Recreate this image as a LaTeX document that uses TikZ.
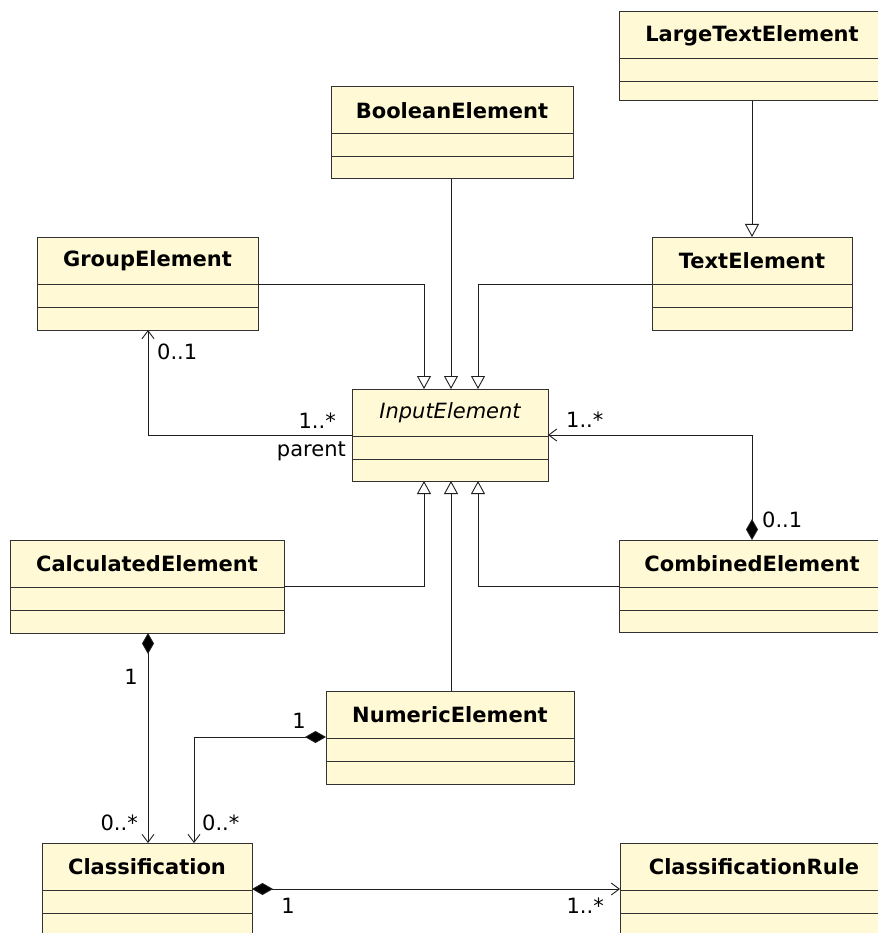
\documentclass[tikz,border=0pt]{standalone}
\usepackage{fontspec}
\setmainfont{DejaVu Sans}
\usetikzlibrary{arrows.meta,calc}
\definecolor{classfill}{RGB}{255,250,213}
\definecolor{classline}{RGB}{50,50,50}
\definecolor{wire}{RGB}{30,30,30}
% \umlclass{name}{x1}{y1}{x2}{y2}{title}{font}
\newcommand{\umlclass}[7]{%
  \node[classbox, minimum width={(#4-#2)*1pt}, minimum height={(#5-#3)*1pt}]
    (#1) at ({(#2+#4)/2},{(#3+#5)/2}) {};
  \draw[classline, line width=1pt] (#2,#3+47) -- (#4,#3+47);
  \draw[classline, line width=1pt] (#2,#3+70) -- (#4,#3+70);
  \node[titletext] (#1-title) at ({(#2+#4)/2},{#3+24}) {#7#6};
}
\tikzset{
  classbox/.style={draw=classline, fill=classfill, line width=1pt,
    rectangle, inner sep=0pt, outer sep=0pt},
  titletext/.style={inner sep=0pt, font=\fontsize{21}{25}\selectfont\bfseries},
  lbl/.style={inner sep=0pt, font=\fontsize{21}{25}\selectfont},
  gen/.style={draw=wire, line width=0.9pt,
    -{Triangle[open, length=13pt, width=14pt, fill=white]}},
  assoc/.style={draw=wire, line width=0.9pt,
    -{Straight Barb[length=8pt, width=12pt, line width=0.9pt]}},
  comp/.style={draw=wire, line width=0.9pt,
    {Diamond[length=21pt, width=12pt, fill=black]}-{Straight Barb[length=8pt, width=12pt, line width=0.9pt]}},
}
\begin{document}
\begin{tikzpicture}[x=1pt, y=-1pt]
  \useasboundingbox (0,0) rectangle (877,933);
  \fill[white] (0,0) rectangle (877,933);

  % classes
  \umlclass{lte}{619}{12}{885}{101}{LargeTextElement}{}
  \umlclass{boo}{331}{87}{573}{179}{BooleanElement}{}
  \umlclass{grp}{37}{237}{258}{330}{GroupElement}{}
  \umlclass{txt}{652}{237}{852}{330}{TextElement}{}
  \umlclass{inp}{352}{389}{548}{481}{InputElement}{\mdseries\itshape}
  \umlclass{calc}{10}{540}{284}{633}{CalculatedElement}{}
  \umlclass{comb}{619}{540}{885}{632}{CombinedElement}{}
  \umlclass{num}{326}{691}{574}{784}{NumericElement}{}
  \umlclass{cls}{42}{843}{252}{945}{Classification}{}
  \umlclass{rule}{620}{843}{888}{945}{ClassificationRule}{}

  % generalizations
  \draw[gen] (lte.south) -- (txt.north);
  \draw[gen] (451,0 |- boo.south) -- (451,0 |- inp.north);
  \draw[gen] (grp.east |- 0,284) -| (424,0 |- inp.north);
  \draw[gen] (txt.west |- 0,284) -| (478,0 |- inp.north);
  \draw[gen] (calc.east |- 0,586) -| (424,0 |- inp.south);
  \draw[gen] (comb.west |- 0,586) -| (478,0 |- inp.south);
  \draw[gen] (451,0 |- num.north) -- (451,0 |- inp.south);

  % associations
  \draw[assoc] (inp.west |- 0,435) -| (148,0 |- grp.south);
  \draw[comp] (752,0 |- comb.north) |- (inp.east |- 0,435);
  \draw[comp] (148,0 |- calc.south) -- (148,0 |- cls.north);
  \draw[comp] (num.west |- 0,737) -| (194,0 |- cls.north);
  \draw[comp] (cls.east |- 0,889) -- (rule.west |- 0,889);

  % multiplicities and roles
  \node[lbl, anchor=west] (m1) at (157,352) {0..1};
  \node[lbl, anchor=east] (m2) at (336,421) {1..*};
  \node[lbl, anchor=east] (r1) at (346,451) {parent};
  \node[lbl, anchor=west] (m3) at (566,420) {1..*};
  \node[lbl, anchor=west] (m4) at (762,520) {0..1};
  \node[lbl] (m5) at (131,677) {1};
  \node[lbl, anchor=east] (m6) at (138,823) {0..*};
  \node[lbl] (m7) at (299,721) {1};
  \node[lbl, anchor=west] (m8) at (202,823) {0..*};
  \node[lbl] (m9) at (288,906) {1};
  \node[lbl, anchor=east] (m10) at (604,906) {1..*};
\end{tikzpicture}
\end{document}
